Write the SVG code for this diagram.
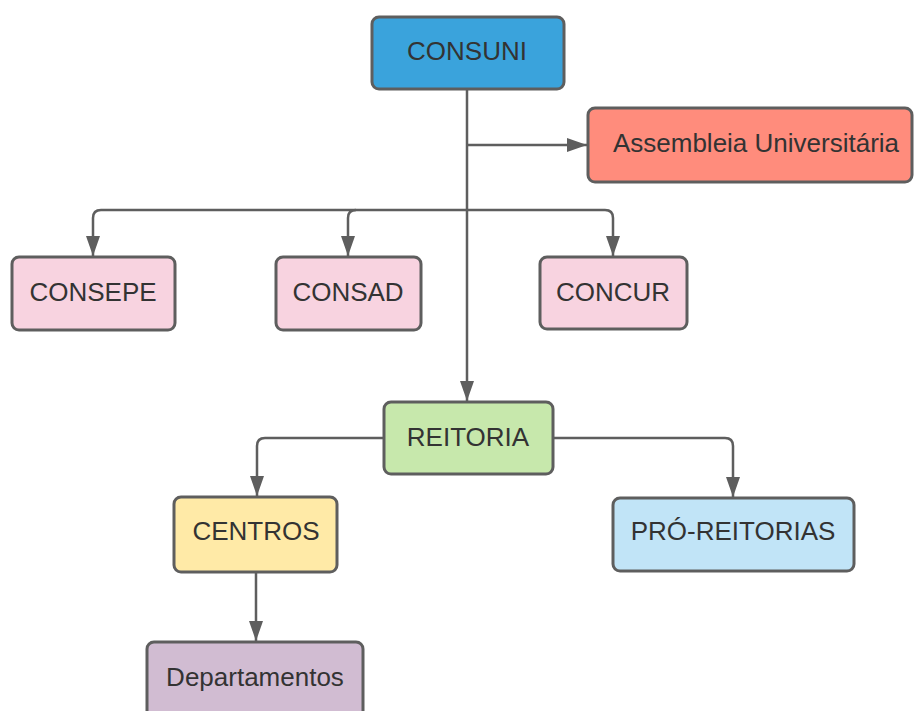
<svg xmlns="http://www.w3.org/2000/svg" width="914" height="711" viewBox="0 0 914 711">
<defs>
<marker id="ah" markerWidth="20" markerHeight="14" refX="20" refY="7" orient="auto" markerUnits="userSpaceOnUse" viewBox="0 0 20 14">
<path d="M0,0 L20,7 L0,14 Z" fill="#5e5e5e"/>
</marker>
<style>
.box{stroke:#5e5e5e;stroke-width:3}
.lbl{font-family:"Liberation Sans",Arial,sans-serif;font-size:26px;fill:#333333;text-anchor:middle;dominant-baseline:central}
.conn{fill:none;stroke:#5e5e5e;stroke-width:2.5}
</style>
</defs>
<rect width="914" height="711" fill="#ffffff"/>
<g id="connectors">
<path class="conn" d="M467,89 V401" marker-end="url(#ah)"/>
<path class="conn" d="M467,145 H587" marker-end="url(#ah)"/>
<path class="conn" d="M605,210 Q613,210 613,218 V256" marker-end="url(#ah)"/>
<path class="conn" d="M605,210 H101 Q93,210 93,218 V256" marker-end="url(#ah)"/>
<path class="conn" d="M356,210 Q348,210 348,218 V256" marker-end="url(#ah)"/>
<path class="conn" d="M383,438 H265 Q257,438 257,446 V496" marker-end="url(#ah)"/>
<path class="conn" d="M553,438 H725 Q733,438 733,446 V497" marker-end="url(#ah)"/>
<path class="conn" d="M256,572 V641" marker-end="url(#ah)"/>
</g>
<g id="consuni">
<rect class="box" x="372" y="17" width="192" height="72" rx="7" fill="#3aa3dc"/>
<text class="lbl" x="467" y="51">CONSUNI</text>
</g>
<g id="assembleia">
<rect class="box" x="588" y="108" width="324" height="74" rx="7" fill="#ff8c7c"/>
<text class="lbl" x="756" y="143">Assembleia Universitária</text>
</g>
<g id="consepe">
<rect class="box" x="12" y="257" width="163" height="73" rx="7" fill="#f8d3e0"/>
<text class="lbl" x="93" y="292">CONSEPE</text>
</g>
<g id="consad">
<rect class="box" x="276" y="257" width="145" height="73" rx="7" fill="#f8d3e0"/>
<text class="lbl" x="348" y="292">CONSAD</text>
</g>
<g id="concur">
<rect class="box" x="540" y="257" width="147" height="72" rx="7" fill="#f8d3e0"/>
<text class="lbl" x="613" y="292">CONCUR</text>
</g>
<g id="reitoria">
<rect class="box" x="384" y="402" width="169" height="72" rx="7" fill="#c7e8ac"/>
<text class="lbl" x="468" y="437">REITORIA</text>
</g>
<g id="centros">
<rect class="box" x="174" y="497" width="163" height="75" rx="7" fill="#ffeaa7"/>
<text class="lbl" x="256" y="531">CENTROS</text>
</g>
<g id="proreitorias">
<rect class="box" x="613" y="498" width="241" height="73" rx="7" fill="#c1e4f7"/>
<text class="lbl" x="733" y="531">PRÓ-REITORIAS</text>
</g>
<g id="departamentos">
<rect class="box" x="147" y="642" width="216" height="80" rx="7" fill="#d1bcd2"/>
<text class="lbl" x="255" y="677">Departamentos</text>
</g>
</svg>
